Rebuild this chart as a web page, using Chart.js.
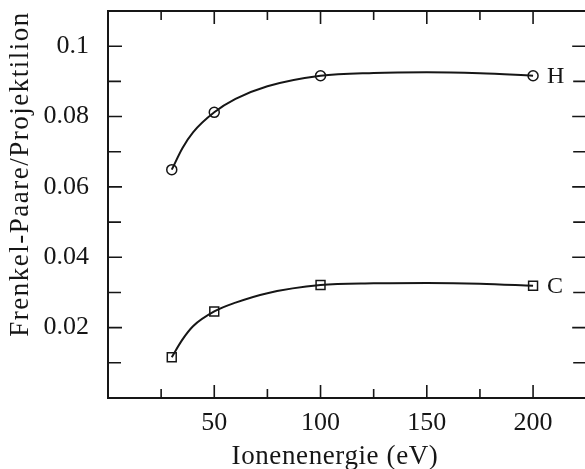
<!DOCTYPE html>
<html>
<head>
<meta charset="utf-8">
<script src="https://cdn.jsdelivr.net/npm/chart.js@4/dist/chart.umd.min.js"></script>
<style>
  html, body { margin: 0; padding: 0; background: #fff; overflow: hidden; }
  #wrap { width: 585px; height: 469px; overflow: hidden; }
</style>
</head>
<body>
<div id="wrap"><canvas id="chart" width="594" height="469"></canvas></div>
<script>
// Messpunkte: Ionenenergie in eV, Frenkel-Paare pro Projektilion
const energies = [30, 50, 100, 200];
const hValues = [0.0649, 0.0812, 0.0916, 0.0916];
const cValues = [0.0116, 0.0246, 0.0321, 0.0319];

// Ausgleichskurven durch die Messpunkte
const curveEnergies = [30, 35, 40, 50, 60, 75, 100, 125, 150, 175, 200];
const hCurve = [0.0649, 0.0710, 0.0755, 0.0812, 0.0850, 0.0886, 0.0916, 0.0924, 0.0926, 0.0923, 0.0916];
const cCurve = [0.0116, 0.0166, 0.0204, 0.0246, 0.0271, 0.0298, 0.0321, 0.0326, 0.0327, 0.0325, 0.0319];

const xTickValues = [50, 100, 150, 200];
const xMinorTicks = [25, 75, 125, 175];
const yTickValues = [0.02, 0.04, 0.06, 0.08, 0.1];
const yTickLabels = ['0.02', '0.04', '0.06', '0.08', '0.1'];
const yMinorTicks = [0.01, 0.03, 0.05, 0.07, 0.09];

const ink = '#161616';
const serif = '"Liberation Serif", "Times New Roman", serif';

const toPoints = (xs, ys) => xs.map((x, i) => ({ x: x, y: ys[i] }));

// Rahmen mit nach innen zeigenden Teilstrichen auf allen vier Seiten
const framePlugin = {
    id: 'frame',
    beforeDatasetsDraw(chart) {
        const { ctx, chartArea: a, scales } = chart;
        const xs = scales.x, ys = scales.y;
        ctx.save();
        ctx.strokeStyle = ink;
        ctx.lineWidth = 2;
        ctx.strokeRect(a.left, a.top, a.right - a.left, a.bottom - a.top);

        ctx.lineWidth = 1.6;
        const xTick = (v, len) => {
            const px = xs.getPixelForValue(v);
            ctx.beginPath();
            ctx.moveTo(px, a.bottom); ctx.lineTo(px, a.bottom - len);
            ctx.moveTo(px, a.top); ctx.lineTo(px, a.top + len);
            ctx.stroke();
        };
        const yTick = (v, len) => {
            const py = ys.getPixelForValue(v);
            ctx.beginPath();
            ctx.moveTo(a.left, py); ctx.lineTo(a.left + len, py);
            ctx.moveTo(a.right, py); ctx.lineTo(a.right - len, py);
            ctx.stroke();
        };
        xTickValues.forEach(v => xTick(v, 13));
        xMinorTicks.forEach(v => xTick(v, 9));
        yTickValues.forEach(v => yTick(v, 14));
        yMinorTicks.forEach(v => yTick(v, 13));
        ctx.restore();
    },
    afterDraw(chart) {
        const { ctx, scales } = chart;
        ctx.save();
        ctx.fillStyle = ink;

        // Achsentitel
        ctx.font = '27px ' + serif;
        ctx.textAlign = 'center';
        ctx.textBaseline = 'middle';
        ctx.letterSpacing = '0.6px';
        ctx.fillText('Ionenenergie (eV)', 335, 457);

        ctx.save();
        ctx.translate(21, 174);
        ctx.rotate(-Math.PI / 2);
        ctx.letterSpacing = '1.5px';
        ctx.fillText('Frenkel-Paare/Projektilion', 0, 0);
        ctx.restore();

        // Kurvenbeschriftung rechts neben dem letzten Punkt
        ctx.letterSpacing = '0px';
        ctx.font = '24px ' + serif;
        ctx.textAlign = 'left';
        const last = energies.length - 1;
        const lx = scales.x.getPixelForValue(energies[last]) + 14;
        ctx.fillText('H', lx, scales.y.getPixelForValue(hValues[last]) + 1);
        ctx.fillText('C', lx, scales.y.getPixelForValue(cValues[last]) + 1);
        ctx.restore();
    }
};

const curveStyle = {
    showLine: true,
    cubicInterpolationMode: 'monotone',
    borderColor: ink,
    borderWidth: 2,
    pointRadius: 0
};

const markerStyle = {
    showLine: false,
    pointBorderWidth: 1.5,
    pointBackgroundColor: '#ffffff',
    pointBorderColor: ink
};

function drawChart() {
    new Chart(document.getElementById('chart'), {
        type: 'scatter',
        data: {
            datasets: [
                Object.assign({ label: 'H Kurve', data: toPoints(curveEnergies, hCurve) }, curveStyle),
                Object.assign({ label: 'C Kurve', data: toPoints(curveEnergies, cCurve) }, curveStyle),
                Object.assign({ label: 'H', data: toPoints(energies, hValues), pointStyle: 'circle', pointRadius: 5 }, markerStyle),
                Object.assign({ label: 'C', data: toPoints(energies, cValues), pointStyle: 'rect', pointRadius: 6.3 }, markerStyle)
            ]
        },
        options: {
            responsive: false,
            animation: false,
            layout: { padding: { left: 0, top: 11, right: 3, bottom: 0 } },
            plugins: {
                legend: { display: false },
                tooltip: { enabled: false }
            },
            scales: {
                x: {
                    type: 'linear',
                    min: 0,
                    max: 225,
                    grid: { display: false },
                    border: { display: false },
                    afterBuildTicks: scale => { scale.ticks = xTickValues.map(v => ({ value: v })); },
                    afterFit: scale => {
                        scale.height = 71;
                        scale.paddingLeft = 0;
                        scale.paddingRight = 0;
                    },
                    ticks: {
                        padding: 2,
                        color: ink,
                        font: { family: serif, size: 26 },
                        maxRotation: 0,
                        callback: v => String(v)
                    }
                },
                y: {
                    type: 'linear',
                    min: 0,
                    max: 0.11,
                    grid: { display: false },
                    border: { display: false },
                    afterBuildTicks: scale => { scale.ticks = yTickValues.map(v => ({ value: v })); },
                    afterFit: scale => {
                        scale.width = 108;
                        scale.paddingTop = 0;
                        scale.paddingBottom = 0;
                    },
                    ticks: {
                        padding: 11,
                        color: ink,
                        font: { family: serif, size: 26 },
                        callback: (v, i) => yTickLabels[i]
                    }
                }
            }
        },
        plugins: [framePlugin]
    });
}

document.fonts.load('26px "Liberation Serif"').then(drawChart, drawChart);
</script>
</body>
</html>
